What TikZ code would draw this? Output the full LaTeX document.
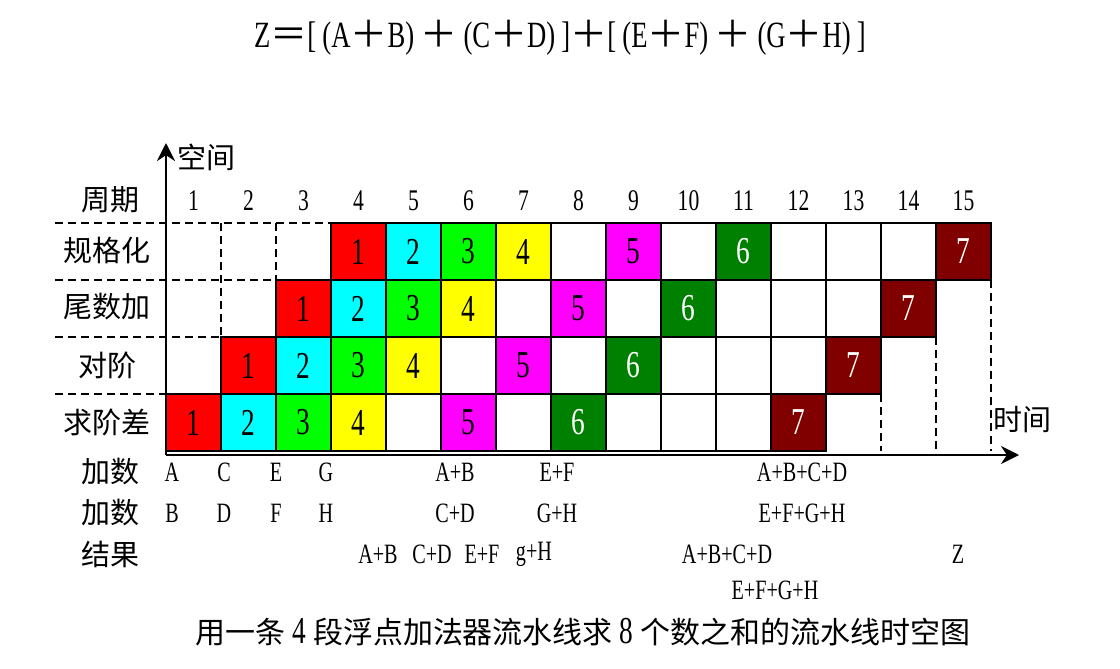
\documentclass[tikz,border=0pt]{standalone}
\usepackage{fontspec}
\setmainfont{Liberation Serif}
\newfontfamily\cjk{Noto Sans CJK SC}
\newfontfamily\narrow[FakeStretch=0.72]{Liberation Serif}
\usetikzlibrary{arrows.meta, positioning}
\definecolor{leafgreen}{RGB}{0, 128, 0}
\definecolor{maroon}{RGB}{128, 0, 0}
\definecolor{aqua}{RGB}{0, 255, 255}
\definecolor{fuchsia}{RGB}{255, 0, 255}
\definecolor{lime}{RGB}{0, 255, 0}
\definecolor{brightred}{RGB}{255, 0, 0}
\definecolor{brightyellow}{RGB}{255, 255, 0}
\newcommand{\wplus}{{\cjk ＋}}
\newcommand{\wequal}{{\cjk ＝}}

\begin{document}
\begin{tikzpicture}[
    x=0.5pt, y=-0.5pt,
    cell/.style={rectangle, draw, line width=1.4pt, minimum width=27.5pt, minimum height=28.5pt, inner sep=0pt, font=\fontsize{19}{20}\selectfont\narrow},
    stage/.style={font=\fontsize{14.5}{16}\selectfont\cjk},
    num/.style={font=\fontsize{15}{16}\selectfont\narrow},
    val/.style={font=\fontsize{14}{16}\selectfont\narrow},
    guide/.style={line width=1.4pt, dash pattern=on 4pt off 2.5pt},
    arrow/.style={-{Stealth[length=9pt, width=9pt]}, line width=1.2pt}
  ]
    \useasboundingbox (0,0) rectangle (1120,669);

    \node[font=\fontsize{18.5}{20}\selectfont\narrow] (formula) at (560,38)
      {Z\wequal[\,(A\wplus B)\,\wplus\,(C\wplus D)\,]\wplus[\,(E\wplus F)\,\wplus\,(G\wplus H)\,]};

    % dashed guides
    \draw[guide] (55,223) -- (331,223);
    \draw[guide] (55,280) -- (276,280);
    \draw[guide] (55,337) -- (221,337);
    \draw[guide] (55,394) -- (166,394);
    \draw[guide] (221,223) -- (221,337);
    \draw[guide] (276,223) -- (276,280);
    \draw[guide] (881,394) -- (881,451);
    \draw[guide] (936,337) -- (936,451);
    \draw[guide] (991,280) -- (991,451);

    % empty cells
    \foreach \s [evaluate=\s as \e using int(\s+11)] in {1,...,4}
      \foreach \c in {\s,...,\e}
        \node[cell] (cell-\s-\c) at ({138.5+55*\c}, {479.5-57*\s}) {};

    % tasks
    \foreach \t/\first/\col/\tc in {1/1/brightred/black, 2/2/aqua/black, 3/3/lime/black, 4/4/brightyellow/black,
                                    5/6/fuchsia/black, 6/8/leafgreen/white, 7/12/maroon/white}
      \foreach \s in {1,...,4} {
        \pgfmathtruncatemacro\x{\first+\s-1}
        \node[cell, fill=\col, text=\tc] (task\t-\s) at ({138.5+55*\x}, {479.5-57*\s}) {\t};
      }

    % axes
    \coordinate (origin) at (166,455);
    \coordinate (spacetip) at (166,143);
    \coordinate (timetip) at (1019,455);
    \draw[arrow] (origin) -- (spacetip);
    \draw[arrow] (origin) -- (timetip);

    \node[stage] (space) at (206,157) {空间};
    \node[stage] (time) at (1022,420) {时间};
    \node[stage] (period) at (110,200) {周期};
    \foreach \c in {1,...,15}
      \node[num] (period\c) at ({138.5+55*\c}, 201) {\c};

    \node[stage] (norm) at (107,250) {规格化};
    \node[stage] (mant) at (107,307) {尾数加};
    \node[stage] (align) at (107,365) {对阶};
    \node[stage] (expdiff) at (107,422) {求阶差};

    \node[stage] (addend1) at (110,472) {加数};
    \node[stage] (addend2) at (110,513) {加数};
    \node[stage] (result) at (110,554) {结果};

    \node[val] (inA) at (172,472) {A};
    \node[val] (inC) at (224,472) {C};
    \node[val] (inE) at (276,472) {E};
    \node[val] (inG) at (326,472) {G};
    \node[val] (inB) at (172,513) {B};
    \node[val] (inD) at (224,513) {D};
    \node[val] (inF) at (276,513) {F};
    \node[val] (inH) at (326,513) {H};
    \node[val] (inAB) at (455,472) {A+B};
    \node[val] (inEF) at (557,472) {E+F};
    \node[val] (inCD) at (455,513) {C+D};
    \node[val] (inGH) at (557,513) {G+H};
    \node[val] (inABCD) at (802,472) {A+B+C+D};
    \node[val] (inEFGH) at (802,513) {E+F+G+H};

    \node[val] (outAB) at (378,554) {A+B};
    \node[val] (outCD) at (432,554) {C+D};
    \node[val] (outEF) at (482,554) {E+F};
    \node[val] (outGH) at (534,554) {g+H};
    \node[val] (outABCD) at (727,554) {A+B+C+D};
    \node[val] (outEFGH) at (775,590) {E+F+G+H};
    \node[val] (outZ) at (958,554) {Z};

    \node[stage, font=\fontsize{15}{17}\selectfont\cjk] (caption) at (583,632)
      {用一条 {\fontsize{19}{17}\selectfont\narrow 4} 段浮点加法器流水线求 {\fontsize{19}{17}\selectfont\narrow 8} 个数之和的流水线时空图};
  \end{tikzpicture}
\end{document}
